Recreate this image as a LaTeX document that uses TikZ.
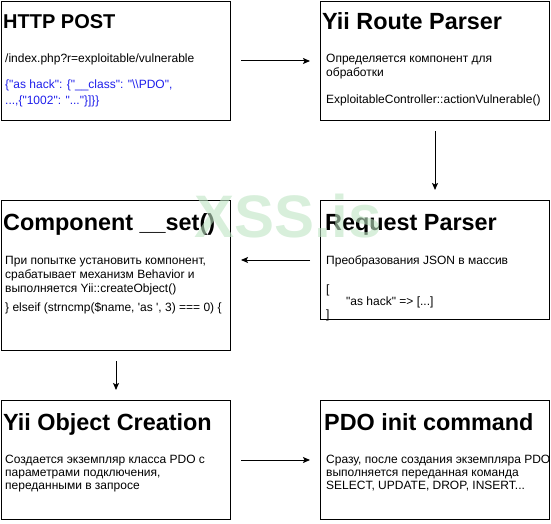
\documentclass[tikz,border=0pt]{standalone}
\usepackage{fontspec}
\newfontfamily\arial{Liberation Sans}
\usetikzlibrary{arrows.meta}
\definecolor{wm}{RGB}{190,228,195}
\definecolor{codeblue}{RGB}{30,30,235}
\begin{document}
\begin{tikzpicture}[x=1pt,y=-1pt,
  box/.style={draw, line width=1pt, rectangle, anchor=north west, inner sep=0pt, minimum width=229pt, minimum height=119pt},
  ttl/.style={anchor=base west, inner sep=0pt, font=\arial\bfseries\fontsize{23.4}{28}\selectfont},
  ttls/.style={anchor=base west, inner sep=0pt, font=\arial\bfseries\fontsize{20}{24}\selectfont},
  txt/.style={anchor=base west, inner sep=0pt, font=\arial\fontsize{12}{14}\selectfont},
  arr/.style={line width=1pt, -{Stealth[length=7pt,width=6pt,inset=1.5pt]}, shorten <=10pt, shorten >=10pt}]
\useasboundingbox (0,0) rectangle (551,524);
% boxes
\node[box] (b1) at (1,1) {};
\node[box] (b2) at (320,1) {};
\node[box, minimum height=150pt] (b3) at (1,200) {};
\node[box] (b4) at (320,200) {};
\node[box] (b5) at (1,400) {};
\node[box] (b6) at (320,400) {};
% box 1
\node[ttls] (t1) at (3,28.5) {HTTP POST};
\node[txt] (l11) at (5,63) {/index.php?r=exploitable/vulnerable};
\node[txt, text=codeblue] (l12) at (5,89) {\{"as hack": \{"\_\_class": "\textbackslash\textbackslash PDO",};
\node[txt, text=codeblue] (l13) at (5,105) {...,\{"1002": "..."\}]\}\}};
% box 2
\node[ttl] (t2) at (322,29.5) {Yii Route Parser};
\node[txt] (l21) at (326,63) {Определяется компонент для};
\node[txt] (l22) at (326,76.5) {обработки};
\node[txt] (l23) at (326,103) {ExploitableController::actionVulnerable()};
% box 3
\node[ttl] (t3) at (3,230) {Component \_\_set()};
\node[txt] (l31) at (5,264) {При попытке установить компонент,};
\node[txt] (l32) at (5,278) {срабатывает механизм Behavior и};
\node[txt] (l33) at (5,292) {выполняется Yii::createObject()};
\node[txt] (l34) at (5,311) {\} elseif (strncmp(\$name, 'as ', 3) === 0) \{};
% box 4
\node[ttl] (t4) at (325,230) {Request Parser};
\node[txt] (l41) at (326,264) {Преобразования JSON в массив};
\node[txt] (l42) at (326,293) {[};
\node[txt] (l43) at (346,305.5) {"as hack" => [...]};
\node[txt] (l44) at (326,318) {]};
% box 5
\node[ttl] (t5) at (3,430) {Yii Object Creation};
\node[txt] (l51) at (5,463.5) {Создается экземпляр класса PDO с};
\node[txt] (l52) at (5,476.5) {параметрами подключения,};
\node[txt] (l53) at (5,489.5) {переданными в запросе};
% box 6
\node[ttl] (t6) at (324,430) {PDO init command};
\node[txt] (l61) at (326,463.5) {Сразу, после создания экземпляра PDO};
\node[txt] (l62) at (326,476.5) {выполняется переданная команда};
\node[txt] (l63) at (326,489.5) {SELECT, UPDATE, DROP, INSERT...};
% arrows
\draw[arr] (b1.east) -- (b2.west);
\draw[arr] (b2.south) -- (b4.north);
\draw[arr] (b4.west) -- (b4.west -| b3.east);
\draw[arr] (b3.south) -- (b5.north);
\draw[arr] (b5.east) -- (b6.west);
% watermark
\node[anchor=base, inner sep=0pt, text=wm, opacity=0.6, font=\arial\bfseries\fontsize{60}{60}\selectfont] (wmk) at (288,237) {XSS.is};
\end{tikzpicture}
\end{document}
